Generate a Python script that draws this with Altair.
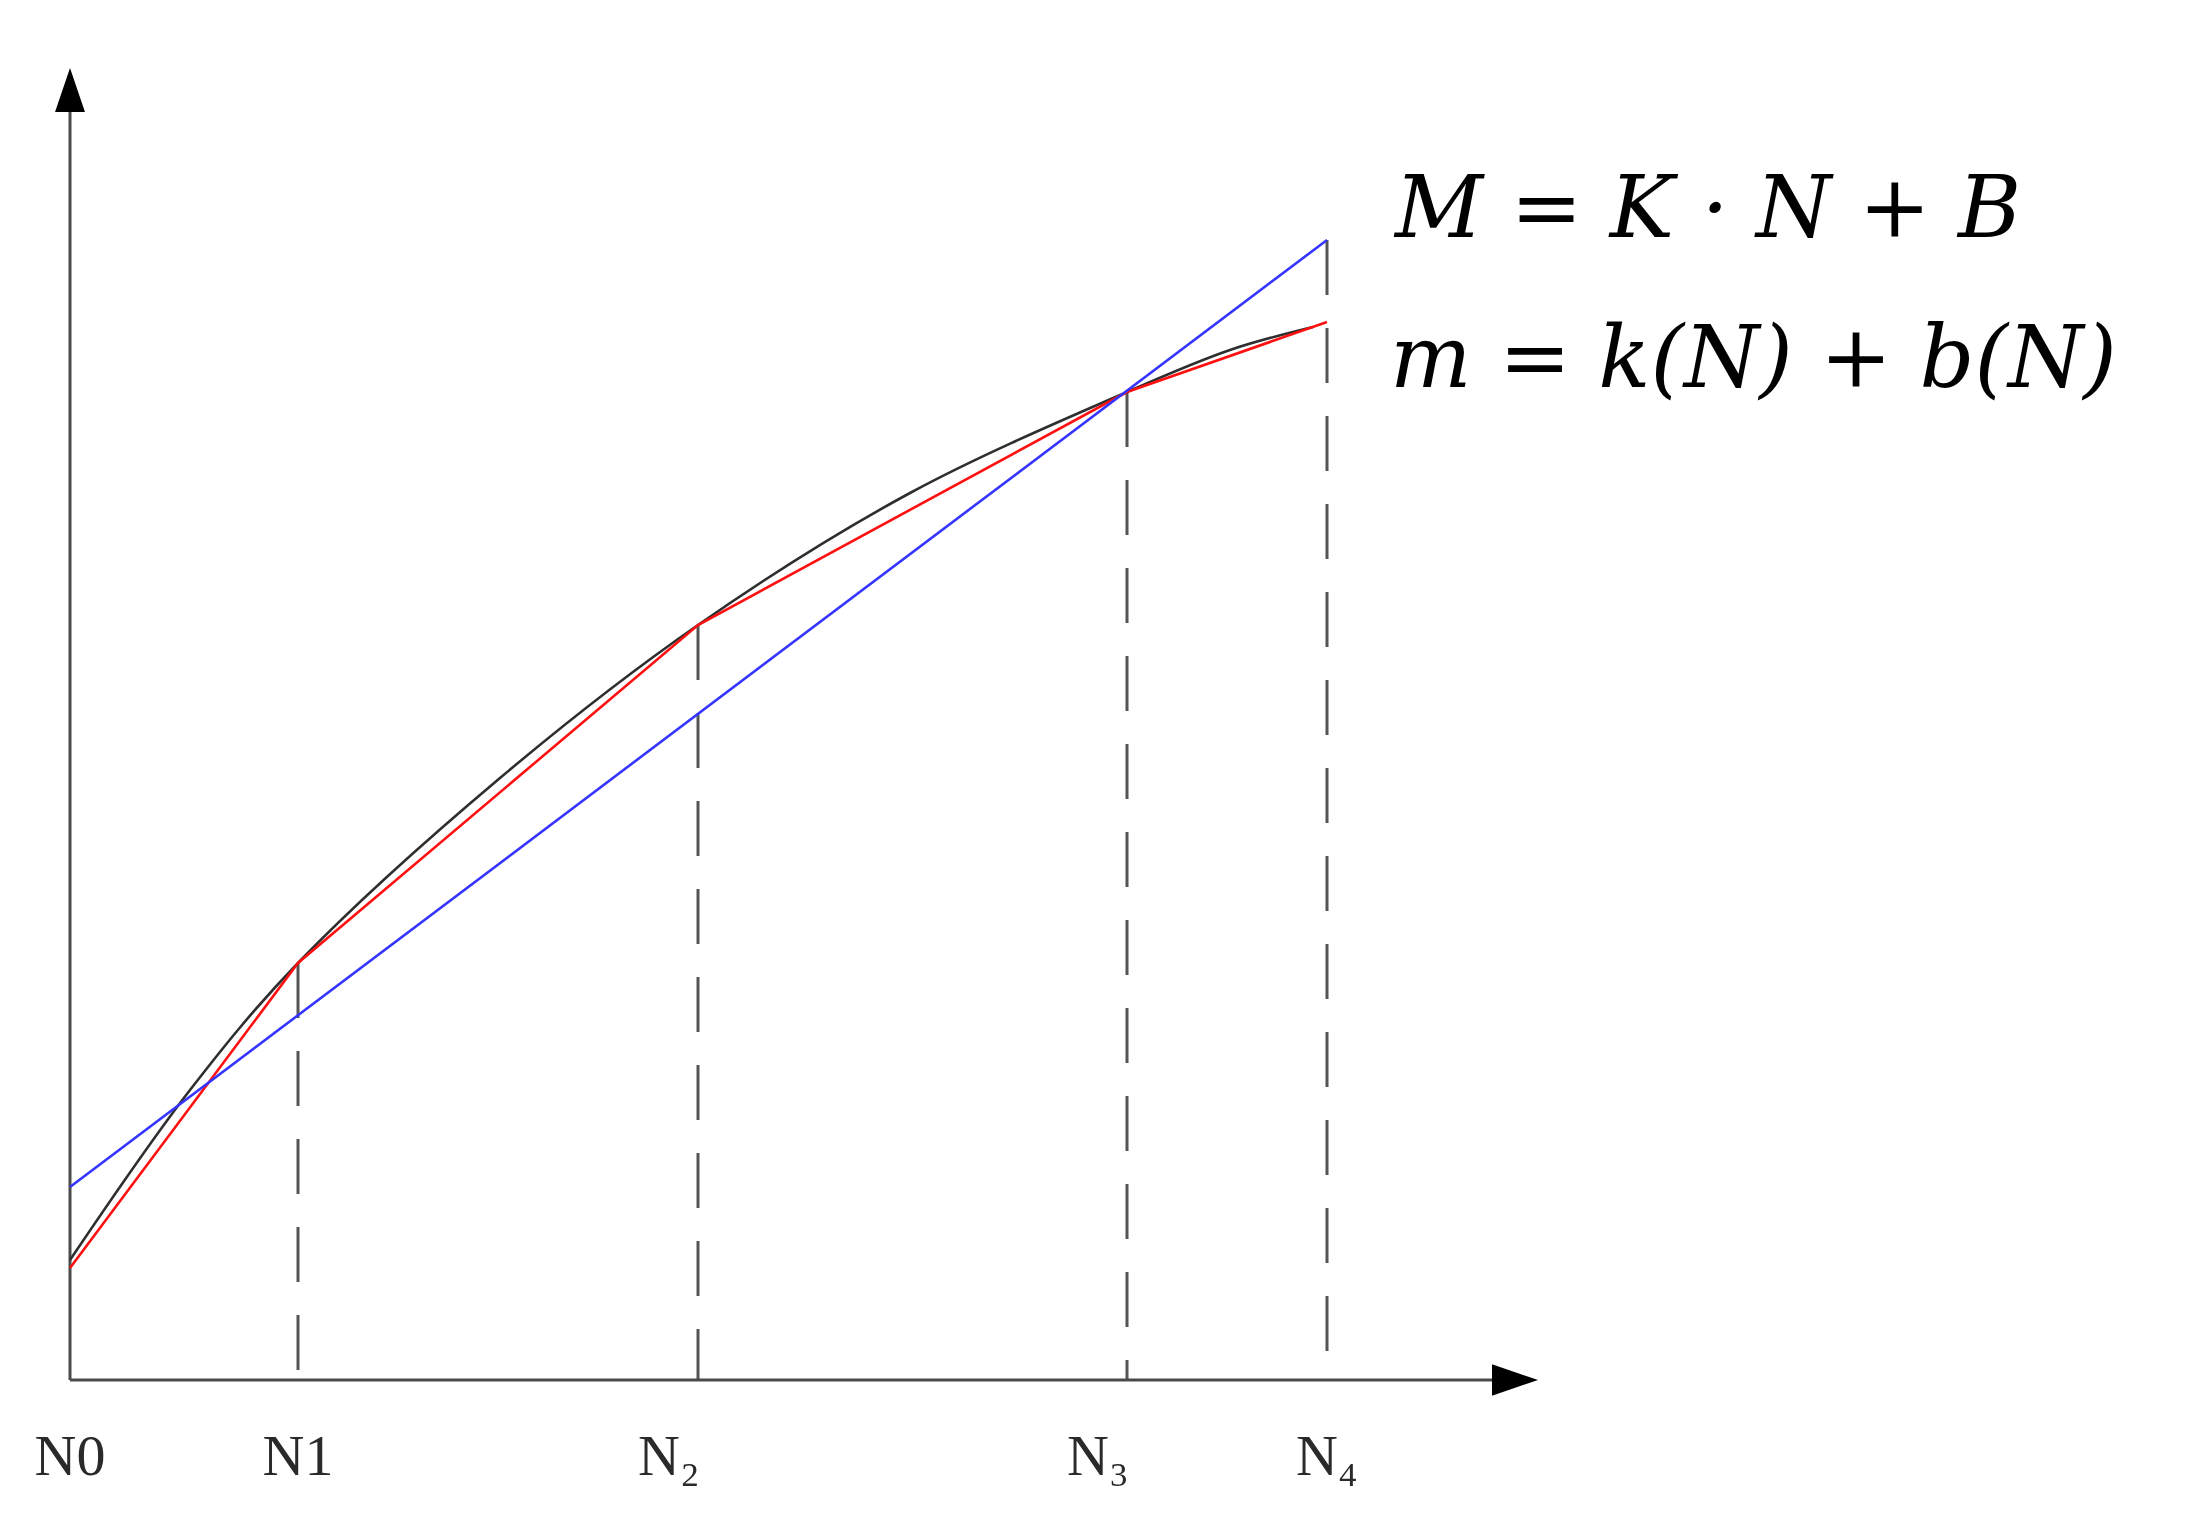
import altair as alt
import pandas as pd

# ---- data ----
node_names = ["N0", "N1", "N₂", "N₃", "N₄"]
node_x = [0, 228, 628, 1057, 1257]
red_y = [112, 417, 755, 988, 1058]            # piecewise-linear approximation m
black_x = [0, 120, 228, 430, 628, 840, 1057, 1160, 1243]
black_y = [120, 290, 417, 602, 755, 887, 988, 1030, 1053]  # true curve
blue_x = [0, 1257]
blue_y = [193, 1140]                          # global line M = K*N + B
guide_x = [228, 628, 1057, 1257]
guide_top = [417, 755, 988, 1140]
formula_text = ["M = K · N + B", "m = k(N) + b(N)"]
formula_x = [1325, 1320]
formula_y = [1143, 993]
x_max = 1468
y_max = 1312

xs = alt.Scale(domain=[0, x_max], nice=False, zero=False)
ys = alt.Scale(domain=[0, y_max], nice=False, zero=False)

def X(f="x"):
    return alt.X(f"{f}:Q", scale=xs, axis=None)

def Y(f="y"):
    return alt.Y(f"{f}:Q", scale=ys, axis=None)

axis_df = pd.DataFrame({"x": [0, 0], "x2": [0, x_max - 22], "y": [0, 0], "y2": [y_max - 22, 0]})
axes = alt.Chart(axis_df).mark_rule(color="#4a4a4a", strokeWidth=3).encode(
    x=X(), x2="x2:Q", y=Y(), y2="y2:Q"
)

arrow_up = alt.Chart(pd.DataFrame({"x": [0], "y": [y_max - 22]})).mark_point(
    shape="M0,-1L-0.68,1L0.68,1Z", size=1936, filled=True, color="black", opacity=1, strokeWidth=0
).encode(x=X(), y=Y())
arrow_right = alt.Chart(pd.DataFrame({"x": [x_max - 23], "y": [0]})).mark_point(
    shape="M1,0L-1,-0.68L-1,0.68Z", size=2116, filled=True, color="black", opacity=1, strokeWidth=0
).encode(x=X(), y=Y())

guide_df = pd.DataFrame({"x": guide_x, "top": guide_top, "bottom": [0] * len(guide_x)})
guides = alt.Chart(guide_df).mark_rule(
    color="#555555", strokeWidth=3, strokeDash=[55, 33]
).encode(x=X(), y=Y("top"), y2="bottom:Q")

black = alt.Chart(pd.DataFrame({"x": black_x, "y": black_y})).mark_line(
    color="#2e2e2e", strokeWidth=2.6, interpolate="catmull-rom"
).encode(x=X(), y=Y())
red = alt.Chart(pd.DataFrame({"x": node_x, "y": red_y})).mark_line(
    color="#ff1010", strokeWidth=2.6
).encode(x=X(), y=Y())
blue = alt.Chart(pd.DataFrame({"x": blue_x, "y": blue_y})).mark_line(
    color="#3535ff", strokeWidth=2.6
).encode(x=X(), y=Y())

lab_df = pd.DataFrame({"x": node_x, "y": [0] * 5, "label": node_names})
labels_c = alt.Chart(lab_df).transform_filter(
    "indexof(['N₂','N₃'], datum.label) < 0"
).mark_text(
    font="Liberation Serif", fontSize=58, color="#2a2a2a", align="center",
    baseline="alphabetic", dy=95
).encode(x=X(), y=Y(), text="label:N")
labels_r = alt.Chart(lab_df).transform_filter(
    "indexof(['N₂','N₃'], datum.label) >= 0"
).mark_text(
    font="Liberation Serif", fontSize=58, color="#2a2a2a", align="right",
    baseline="alphabetic", dy=95, dx=2
).encode(x=X(), y=Y(), text="label:N")

form_df = pd.DataFrame({"x": formula_x, "y": formula_y, "t": formula_text})
formulas = alt.Chart(form_df).mark_text(
    font="DejaVu Serif", fontStyle="italic", fontSize=86, color="black",
    align="left", baseline="alphabetic"
).encode(x=X(), y=Y(), text="t:N")

chart = alt.layer(
    guides, axes, arrow_up, arrow_right, black, red, blue, labels_c, labels_r, formulas
).properties(
    width=x_max, height=y_max, autosize="none",
    padding={"left": 62, "top": 60, "right": 620, "bottom": 110},
    background="white",
).configure_view(strokeWidth=0)

chart.save("out.html", embed_options={"renderer": "svg", "actions": False})
